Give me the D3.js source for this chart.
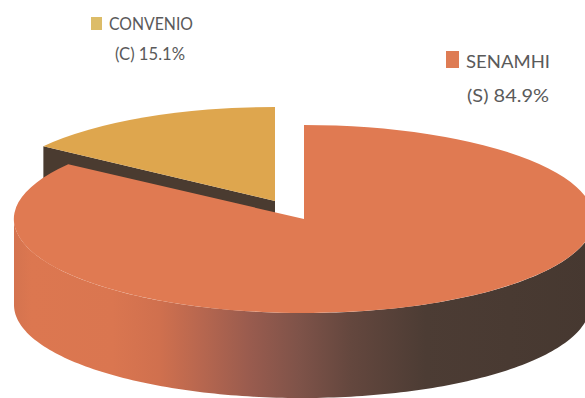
<!DOCTYPE html>
<html>
<head>
<meta charset="utf-8">
<style>
  html, body { margin: 0; padding: 0; background: #fff; }
  svg { display: block; }
  text { font-family: Lato, sans-serif; fill: #5a5a5a; }
</style>
<script src="https://cdn.jsdelivr.net/npm/d3@7/dist/d3.min.js"></script>
</head>
<body>
<svg id="chart" width="585" height="398"></svg>
<script>
// Share of stations by operator
const names = ["SENAMHI", "CONVENIO"];
const codes = ["S", "C"];
const shares = [84.9, 15.1];
const topColors = ["#e07a52", "#dea64e"];
const legendColors = ["#de7c54", "#dcbc68"];

const svg = d3.select("#chart");
const ry = 94, depth = 86;
const centers = [{x: 304, y: 219}, {x: 275, y: 201}];
const radii = [290, 285];
const base = {x: 302, y: 305, rx: 288, ry: 93};

const slices = d3.pie().sort(null).value(d => d)(shares);

// Wall shading runs from lit orange at the left into near-black at the right
const grad = svg.append("defs").append("linearGradient")
  .attr("id", "wall").attr("gradientUnits", "userSpaceOnUse")
  .attr("x1", 14).attr("x2", 594).attr("y1", 0).attr("y2", 0);
[[0, "#d4734f"], [0.03, "#dc7750"], [0.17, "#da7650"], [0.25, "#d0704e"], [0.32, "#b8674f"],
 [0.41, "#985b4e"], [0.49, "#7f5349"], [0.58, "#64473e"], [0.71, "#4c3c34"], [1, "#463830"]]
  .forEach(([o, c]) => grad.append("stop").attr("offset", o).attr("stop-color", c));

const rimPoint = (i, a, dz) => [
  centers[i].x + radii[i] * Math.sin(a),
  centers[i].y - ry * Math.cos(a) + dz
];
const basePoint = a => [
  base.x + base.rx * Math.sin(a),
  base.y - base.ry * Math.cos(a)
];
const line = d3.line();

// Dark cut face of the pulled-out slice
const cut = slices[1];
svg.append("path")
  .attr("d", line([
    rimPoint(1, cut.startAngle, 0),
    [centers[1].x, centers[1].y],
    [centers[1].x, centers[1].y + depth],
    rimPoint(1, cut.startAngle, depth)
  ]) + "Z")
  .attr("fill", "#4a3b30");

// Outer wall of the large slice, visible along the front half only
const frontAngles = d3.range(Math.PI / 2, 3 * Math.PI / 2 + 0.01, 0.02);
svg.append("path")
  .attr("d", line(
    frontAngles.map(a => rimPoint(0, a, 0))
      .concat(frontAngles.slice().reverse().map(basePoint))
  ) + "Z")
  .attr("fill", "url(#wall)");

// Top faces: a unit arc squashed into the tilted ellipse
const arc = d3.arc().innerRadius(0).outerRadius(1);
slices.forEach((s, i) => {
  svg.append("path")
    .attr("d", arc(s))
    .attr("transform", `translate(${centers[i].x},${centers[i].y}) scale(${radii[i]},${ry})`)
    .attr("fill", topColors[i]);
});

// Legend entries
const legend = [
  {sq: [91, 17, 11, 13], x1: 151, x2: 150, y1: 30, y2: 60, w1: 84, w2: 70},
  {sq: [446, 51, 13, 17], x1: 508, x2: 508, y1: 68, y2: 102, w1: 84, w2: 82}
];
const order = [1, 0];
order.forEach((idx, k) => {
  const l = legend[k];
  svg.append("rect")
    .attr("x", l.sq[0]).attr("y", l.sq[1]).attr("width", l.sq[2]).attr("height", l.sq[3])
    .attr("fill", legendColors[idx]);
  svg.append("text")
    .attr("x", l.x1).attr("y", l.y1).attr("text-anchor", "middle")
    .attr("font-size", 18).attr("textLength", l.w1).attr("lengthAdjust", "spacingAndGlyphs")
    .text(names[idx]);
  svg.append("text")
    .attr("x", l.x2).attr("y", l.y2).attr("text-anchor", "middle")
    .attr("font-size", 18).attr("textLength", l.w2).attr("lengthAdjust", "spacingAndGlyphs")
    .text(`(${codes[idx]}) ${shares[idx].toFixed(1)}%`);
});
</script>
</body>
</html>
